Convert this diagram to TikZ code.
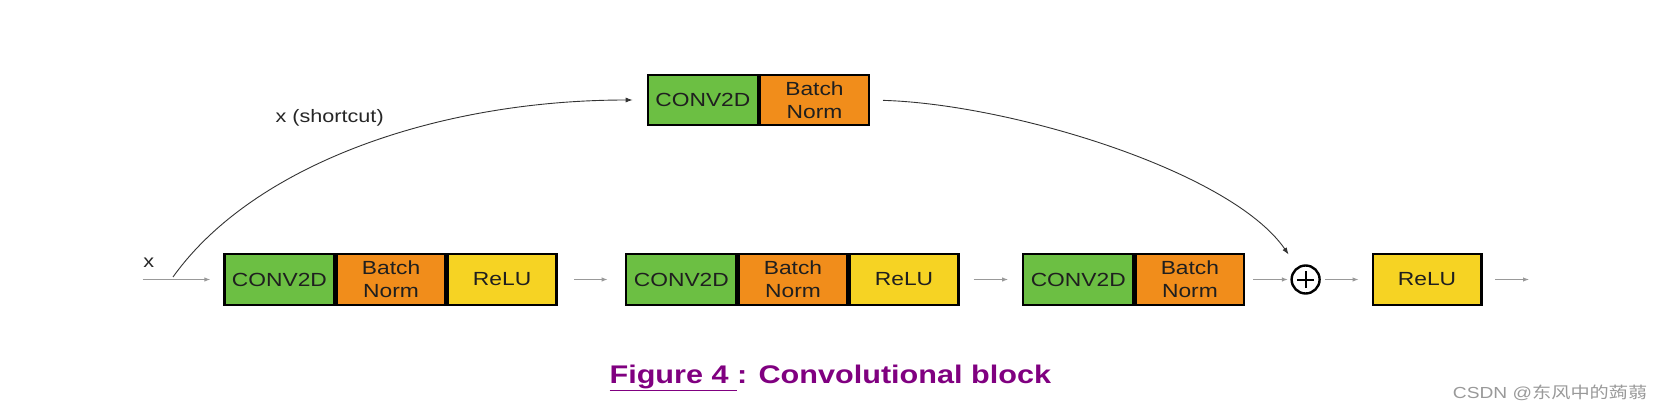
\documentclass[tikz,border=0pt]{standalone}
\usepackage{fontspec}
\setmainfont{Liberation Sans}[FakeStretch=1.2]
\newfontfamily\cjkfont{Noto Sans CJK SC}[FakeStretch=1.2]
\usetikzlibrary{positioning, arrows.meta}

\definecolor{convgreen}{RGB}{108,191,67}
\definecolor{bnorange}{RGB}{241,141,27}
\definecolor{reluyellow}{RGB}{246,211,35}
\definecolor{capurple}{RGB}{128,0,128}

\tikzset{
  cell/.style={draw=black, line width=2.2pt, minimum height=50.3pt, inner sep=0pt,
    align=center, text=black!88, font=\fontsize{19}{23}\selectfont},
  conv/.style={cell, fill=convgreen, minimum width=110.1pt},
  bn/.style={cell, fill=bnorange, minimum width=108.8pt},
  relu/.style={cell, fill=reluyellow, minimum width=108.8pt},
  sumnode/.style={circle, draw=black, line width=2.4pt, minimum size=28pt, inner sep=0pt},
  flow/.style={draw=black!40, line width=1pt, -{Latex[length=6pt,width=4.5pt]}},
  skip/.style={draw=black!80, line width=0.9pt, -{Latex[length=7pt,width=5pt]}},
  lbl/.style={font=\fontsize{18}{22}\selectfont, text=black!85}
}

\begin{document}
\begin{tikzpicture}[x=1pt,y=1pt]
\useasboundingbox (0,0) rectangle (1659,413);

% main path
\node[conv, anchor=west] (c1) at (223.3,133.5) {CONV2D};
\node[bn, right=0pt of c1] (b1) {Batch\\Norm};
\node[relu, right=0pt of b1] (r1) {ReLU};
\node[conv, right=67.6pt of r1] (c2) {CONV2D};
\node[bn, right=0pt of c2] (b2) {Batch\\Norm};
\node[relu, right=0pt of b2] (r2) {ReLU};
\node[conv, right=62.6pt of r2] (c3) {CONV2D};
\node[bn, right=0pt of c3] (b3) {Batch\\Norm};
\node[sumnode, right=45pt of b3] (add) {};
\draw[line width=2pt] ([xshift=-8.5pt]add.center) -- ([xshift=8.5pt]add.center);
\draw[line width=2pt] ([yshift=-8.5pt]add.center) -- ([yshift=8.5pt]add.center);
\node[relu, right=50.7pt of add] (r4) {ReLU};

% shortcut
\node[conv, anchor=west] (sc) at (646.7,313) {CONV2D};
\node[bn, right=0pt of sc] (scb) {Batch\\Norm};

\coordinate (xin) at (142.7,133.5);
\coordinate (split) at (173,136);
\coordinate (xout) at (1529,133.5);

\draw[flow, shorten >=13pt] (xin) -- (c1);
\draw[flow, shorten <=16.6pt, shorten >=17.6pt] (r1) -- (c2);
\draw[flow, shorten <=14pt, shorten >=14pt] (r2) -- (c3);
\draw[flow, shorten <=7.7pt, shorten >=2.5pt] (b3) -- (add);
\draw[flow, shorten <=4pt, shorten >=13pt] (add) -- (r4);
\draw[flow, shorten <=12.5pt] (r4) -- (xout);

\draw[skip, shorten >=14pt] (split) .. controls +(80,112) and +(-210,0) .. (sc.west);
\draw[skip, shorten <=13pt, shorten >=15pt] (scb.east) .. controls +(140,-4) and +(-66,96) .. (add.124);

\node[lbl] (lx) at (148.7,150.5) {x};
\node[lbl] (lsc) at (329.7,295.5) {x (shortcut)};

% caption
\node[font=\fontsize{25.5}{30}\selectfont\bfseries, text=capurple, anchor=base] (cap)
  at (830.3,30) {\underline{Figure 4\ }: Convolutional block};
\node[font=\fontsize{16}{18}\selectfont, text=black!40, anchor=base west, inner sep=0pt] (wm)
  at (1452.7,14.7) {CSDN @{\cjkfont 东风中的蒟蒻}};
\end{tikzpicture}
\end{document}
